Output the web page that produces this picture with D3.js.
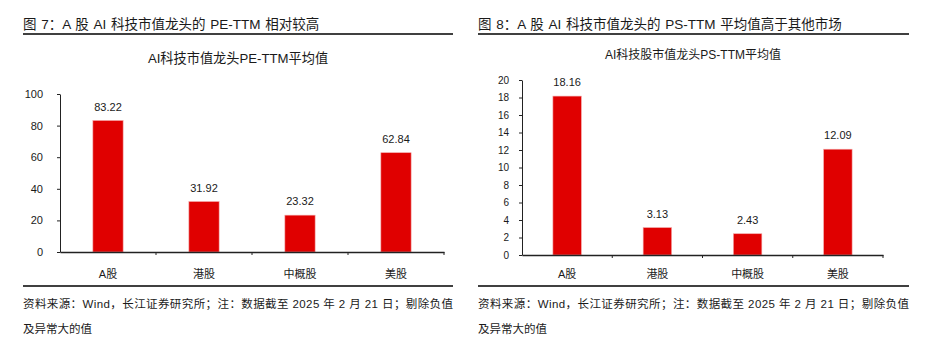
<!DOCTYPE html>
<html>
<head>
<meta charset="utf-8">
<script src="https://cdn.jsdelivr.net/npm/d3@7"></script>
<style>
  body { margin: 0; background: #fff; }
  svg text { font-family: "Liberation Sans", Arial, "Noto Sans CJK SC", sans-serif; fill: #1a1a1a; }
</style>
</head>
<body>
<svg id="chart" width="929" height="361"></svg>
<script>
// data
var markets = ["A股", "港股", "中概股", "美股"];
var peValues = [83.22, 31.92, 23.32, 62.84];
var psValues = [18.16, 3.13, 2.43, 12.09];
var peTicks = [0, 20, 40, 60, 80, 100];
var psTicks = [0, 2, 4, 6, 8, 10, 12, 14, 16, 18, 20];

var svg = d3.select("#chart");
var red = "#e00000";

function drawPanel(opt) {
  var g = svg.append("g");

  // figure caption + rule
  g.append("text")
    .attr("x", opt.left).attr("y", 29)
    .style("font-size", "13.5px")
    .style("word-spacing", "1px")
    .text(opt.caption);
  g.append("line")
    .attr("x1", opt.left).attr("x2", opt.right)
    .attr("y1", 34).attr("y2", 34)
    .attr("stroke", "#000").attr("stroke-width", 1.3);

  // chart title
  g.append("text")
    .attr("x", opt.titleX).attr("y", opt.titleY)
    .attr("text-anchor", "middle")
    .style("font-size", opt.titleSize)
    .text(opt.title);

  var x = d3.scaleBand()
    .domain(markets)
    .range([opt.x0, opt.x1])
    .paddingInner(0.685).paddingOuter(0.3425);

  var y = d3.scaleLinear()
    .domain([0, opt.max])
    .range([opt.y0, opt.y1]);

  // y axis
  var yAxis = g.append("g")
    .attr("transform", "translate(" + opt.x0 + ",0)")
    .call(d3.axisLeft(y).tickValues(opt.ticks).tickSize(3).tickPadding(opt.tickPad).tickSizeOuter(0));
  yAxis.selectAll("path, line").attr("stroke", "#222");
  yAxis.selectAll("text").style("font-size", opt.tickSize).attr("fill", "#1a1a1a");

  // bars
  g.selectAll("rect.bar")
    .data(opt.values)
    .enter().append("rect")
    .attr("class", "bar")
    .attr("x", function(d, i) { return x(markets[i]); })
    .attr("width", x.bandwidth())
    .attr("y", function(d) { return y(d); })
    .attr("height", function(d) { return y(0) - y(d); })
    .attr("fill", red)
    .attr("stroke", "#f3a6a6").attr("stroke-width", 0.6);

  // value labels
  g.selectAll("text.val")
    .data(opt.values)
    .enter().append("text")
    .attr("class", "val")
    .attr("x", function(d, i) { return x(markets[i]) + x.bandwidth() / 2; })
    .attr("y", function(d) { return y(d) - 10; })
    .attr("text-anchor", "middle")
    .style("font-size", "11px")
    .text(function(d) { return d.toFixed(2); });

  // x axis
  var xAxis = g.append("g")
    .attr("transform", "translate(0," + opt.y0 + ")")
    .call(d3.axisBottom(x).tickSize(0).tickPadding(opt.xPad).tickSizeOuter(0));
  xAxis.select("path").attr("stroke", "#222").attr("stroke-width", 1.3);
  xAxis.selectAll("text").style("font-size", "11px").attr("fill", "#1a1a1a");

  // category separators on the x axis
  g.selectAll("line.sep")
    .data(markets)
    .enter().append("line")
    .attr("class", "sep")
    .attr("x1", function(d) { return x(d) - x.step() * 0.3425 + x.step(); })
    .attr("x2", function(d) { return x(d) - x.step() * 0.3425 + x.step(); })
    .attr("y1", opt.y0).attr("y2", opt.y0 + 3)
    .attr("stroke", "#222");

  // bottom rule + source note
  g.append("line")
    .attr("x1", opt.left).attr("x2", opt.right)
    .attr("y1", 286).attr("y2", 286)
    .attr("stroke", "#000").attr("stroke-width", 1.3);
  g.append("text")
    .attr("x", opt.left).attr("y", 308)
    .attr("textLength", opt.right - opt.left)
    .attr("lengthAdjust", "spacing")
    .style("font-size", "11.5px")
    .text("资料来源：Wind，长江证券研究所；注：数据截至 2025 年 2 月 21 日；剔除负值");
  g.append("text")
    .attr("x", opt.left).attr("y", 333)
    .style("font-size", "11.5px")
    .text("及异常大的值");
}

drawPanel({
  left: 23, right: 453,
  caption: "图 7：A 股 AI 科技市值龙头的 PE-TTM 相对较高",
  title: "AI科技市值龙头PE-TTM平均值", titleX: 238, titleY: 63, titleSize: "13.2px",
  x0: 60, x1: 444, y0: 252, y1: 94,
  max: 100, ticks: peTicks, values: peValues,
  tickSize: "11px", tickPad: 14, xPad: 18
});

drawPanel({
  left: 478, right: 909,
  caption: "图 8：A 股 AI 科技市值龙头的 PS-TTM 平均值高于其他市场",
  title: "AI科技股市值龙头PS-TTM平均值", titleX: 693, titleY: 59, titleSize: "12px",
  x0: 522, x1: 883, y0: 255, y1: 80,
  max: 20, ticks: psTicks, values: psValues,
  tickSize: "10px", tickPad: 10, xPad: 15
});
</script>
</body>
</html>
